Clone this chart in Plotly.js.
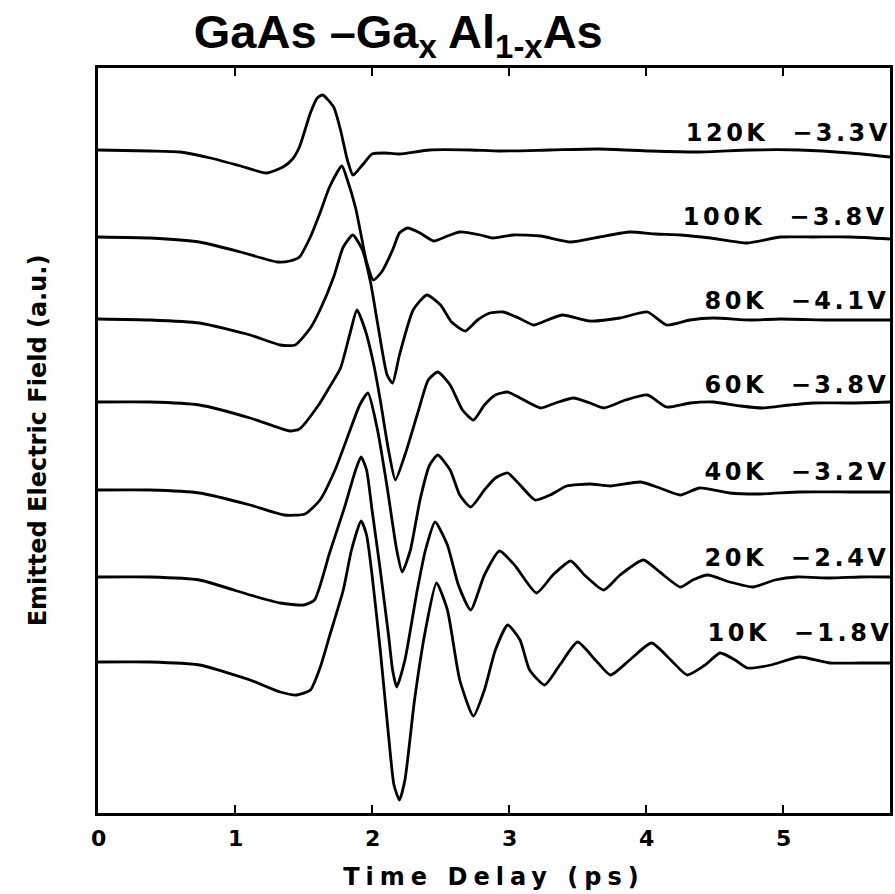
<!DOCTYPE html>
<html><head><meta charset="utf-8">
<script src="https://cdn.plot.ly/plotly-3.0.1.min.js"></script>
<style>html,body{margin:0;padding:0;background:#fff;} #chart{width:895px;height:894px;}</style>
</head><body><div id="chart"></div>
<script>
// Time delay (ps) and emitted field (a.u., vertically offset traces)
const t_120K = [0.00,0.38,0.60,0.82,1.04,1.23,1.35,1.42,1.47,1.55,1.60,1.64,1.72,1.77,1.82,1.86,1.88,1.93,2.00,2.09,2.20,2.42,2.72,2.93,3.30,3.66,4.03,4.39,4.76,5.12,5.49,5.78];
const e_120K = [66.3,66.2,66.1,65.5,64.7,64.0,64.6,65.4,66.6,70.0,71.5,71.8,70.6,68.3,65.3,63.8,64.0,64.8,65.9,66.0,65.9,66.3,66.3,66.2,66.3,66.4,66.2,66.1,66.3,66.3,66.0,65.6];

const t_100K = [0.00,0.38,0.74,1.04,1.31,1.40,1.47,1.55,1.62,1.69,1.78,1.82,1.88,1.92,1.96,2.01,2.07,2.15,2.20,2.26,2.35,2.45,2.55,2.64,2.79,2.88,3.03,3.23,3.45,3.66,3.88,4.07,4.25,4.47,4.74,4.98,5.22,5.49,5.78];
const e_100K = [57.6,57.5,57.1,56.1,55.1,55.2,55.6,57.6,60.0,62.6,64.7,63.3,60.5,57.8,55.1,53.3,54.1,56.3,58.0,58.5,58.0,57.2,57.7,58.1,57.8,57.5,57.8,57.7,57.1,57.6,58.1,57.9,57.8,57.5,57.0,57.6,57.6,57.6,57.4];

const t_80K = [0.00,0.38,0.74,1.11,1.33,1.44,1.55,1.62,1.72,1.79,1.86,1.93,1.99,2.04,2.11,2.15,2.20,2.30,2.40,2.50,2.58,2.68,2.77,2.86,2.96,3.07,3.18,3.28,3.39,3.59,3.81,4.01,4.15,4.32,4.49,4.76,4.98,5.34,5.78];
const e_80K = [49.4,49.3,49.0,47.8,46.8,46.8,48.5,50.3,53.6,56.6,57.8,56.3,53.0,49.0,43.8,43.0,45.8,50.3,51.8,50.8,49.1,48.2,49.3,50.0,50.1,49.5,48.8,49.3,49.8,49.2,49.5,50.1,48.8,49.3,49.5,49.3,49.4,49.3,49.3];

const t_60K = [0.00,0.38,0.74,1.11,1.40,1.47,1.61,1.69,1.77,1.84,1.89,1.95,2.01,2.06,2.12,2.17,2.24,2.34,2.41,2.48,2.57,2.66,2.74,2.82,2.90,2.99,3.08,3.23,3.34,3.47,3.59,3.69,3.85,4.01,4.15,4.32,4.49,4.69,4.85,5.05,5.22,5.49,5.78];
const e_60K = [41.1,41.1,40.8,39.5,38.2,38.4,40.8,42.6,44.5,48.0,50.3,48.3,45.0,41.3,36.3,33.3,35.8,40.3,43.3,44.1,42.8,40.3,39.3,40.8,41.8,42.1,41.5,40.5,41.0,41.5,41.0,40.5,41.3,41.8,40.6,41.0,41.1,40.7,40.5,40.8,41.0,41.0,41.1];

const t_40K = [0.00,0.38,0.74,1.11,1.36,1.51,1.62,1.73,1.84,1.91,1.97,2.04,2.11,2.18,2.22,2.28,2.35,2.42,2.48,2.57,2.64,2.72,2.82,2.90,2.99,3.08,3.19,3.30,3.42,3.59,3.74,3.96,4.10,4.25,4.39,4.61,4.83,5.12,5.49,5.78];
const e_40K = [32.3,32.3,32.0,30.8,29.8,29.9,31.3,34.3,38.3,40.8,42.0,38.3,32.6,26.3,24.1,26.3,31.3,34.8,35.8,34.3,31.8,30.6,32.3,33.5,34.0,32.8,31.3,31.8,32.7,32.9,32.7,33.1,32.5,31.8,32.5,32.0,31.9,32.1,32.1,32.1];

const t_20K = [0.00,0.38,0.74,1.11,1.33,1.50,1.58,1.69,1.80,1.88,1.92,1.96,2.00,2.06,2.12,2.15,2.18,2.24,2.33,2.39,2.46,2.55,2.63,2.72,2.82,2.93,3.04,3.20,3.32,3.45,3.55,3.69,3.81,3.98,4.10,4.25,4.34,4.45,4.61,4.78,4.94,5.10,5.34,5.56,5.78];
const e_20K = [23.6,23.6,23.3,21.8,21.0,20.8,21.3,26.0,30.6,34.3,35.6,34.3,30.3,24.3,17.8,14.3,12.6,15.3,22.3,26.3,29.1,26.8,22.8,20.3,23.8,26.2,24.8,22.0,23.8,25.2,23.8,22.3,23.8,25.3,24.1,22.6,23.3,23.8,23.1,22.6,23.3,23.6,23.5,23.6,23.6];

const t_10K = [0.00,0.38,0.74,1.11,1.33,1.45,1.55,1.62,1.69,1.79,1.85,1.92,1.96,2.00,2.06,2.12,2.16,2.20,2.24,2.31,2.39,2.47,2.55,2.64,2.74,2.82,2.90,2.99,3.08,3.15,3.26,3.37,3.50,3.63,3.74,3.88,4.04,4.18,4.30,4.43,4.54,4.65,4.74,4.91,5.12,5.34,5.56,5.78];
const e_10K = [15.1,15.1,14.8,13.3,12.1,11.8,12.3,14.5,17.7,22.3,26.3,29.2,27.8,23.8,16.3,7.8,2.8,1.3,3.3,11.3,18.3,23.0,20.3,13.3,9.7,12.3,16.3,18.8,17.3,14.3,12.8,14.8,17.1,15.3,13.8,15.3,17.0,15.3,13.8,14.8,16.0,15.3,14.5,14.8,15.6,15.0,15.0,15.0];

const curveLabels = ["120K −3.3V","100K −3.8V","80K −4.1V","60K −3.8V","40K −3.2V","20K −2.4V","10K −1.8V"];
const xTickVals = [0,1,2,3,4,5];
const xTickText = ["0","1","2","3","4","5"];

const series = [[t_120K,e_120K],[t_100K,e_100K],[t_80K,e_80K],[t_60K,e_60K],[t_40K,e_40K],[t_20K,e_20K],[t_10K,e_10K]];

const traces = series.map(function(s, i){
  return {x: s[0], y: s[1], type:'scatter', mode:'lines', name: curveLabels[i],
    line:{color:'#000', width:2.8, shape:'spline', smoothing:0.55}, hoverinfo:'skip'};
});

// label placement (layout)
const labelX = [5.04,5.02,5.10,5.10,5.10,5.10,5.12];
const labelY = [68.0,59.6,51.2,42.8,34.1,25.5,18.0];
const plotFont = 'DejaVu Sans, Verdana, sans-serif';

const curveAnnotations = curveLabels.map(function(lab, i){
  return {x: labelX[i], y: labelY[i], xref:'x', yref:'y', text: lab.replace(' ', '\u00a0 '),
    showarrow:false, xanchor:'center', yanchor:'middle',
    font:{family: plotFont, size:24, weight:'bold', color:'#000'}};
});
// x tick labels drawn at the axis tick values
const tickAnnotations = xTickVals.map(function(v, i){
  return {x: v, y: -0.034, xref:'x', yref:'paper', text: xTickText[i], showarrow:false,
    xanchor:'center', yanchor:'middle', font:{family: plotFont, size:22, weight:'bold', color:'#000'}};
});

const layout = {
  width:895, height:894,
  margin:{l:98, r:5, t:68, b:81},
  paper_bgcolor:'#fff', plot_bgcolor:'#fff',
  showlegend:false,
  font:{family:plotFont, color:'#000'},
  title:{text:'GaAs –Ga<sub>x</sub> Al<sub>1-x</sub>As', xref:'container', yref:'container',
    x:0.445, xanchor:'center', y:1-15/894, yanchor:'top',
    font:{family:'Liberation Sans, Arial, sans-serif', size:47, weight:'bold', color:'#000'}},
  xaxis:{range:[0,5.78], tickmode:'array', tickvals:xTickVals, ticktext:xTickText, showticklabels:false,
    ticks:'inside', ticklen:8, tickwidth:2.5,
    tickcolor:'#000', mirror:'ticks', showline:true, linewidth:3, linecolor:'#000', showgrid:false, zeroline:false,
    title:{text:'Time Delay (ps)', standoff:54, font:{family:plotFont, size:24, weight:'bold', color:'#000'}}},
  yaxis:{range:[0,74.5], showticklabels:false, ticks:'', showline:true, mirror:true, linewidth:3,
    linecolor:'#000', showgrid:false, zeroline:false,
    title:{text:'Emitted Electric Field (a.u.)', standoff:42, font:{family:plotFont, size:24, weight:'bold', color:'#000'}}},
  annotations: curveAnnotations.concat(tickAnnotations)
};

Plotly.newPlot('chart', traces, layout, {staticPlot:true, displayModeBar:false}).then(function(gd){
  gd.querySelectorAll('.annotation-text').forEach(function(el){
    if (el.textContent.length > 2) el.style.letterSpacing = '3.5px';
  });
  var xt = gd.querySelector('.xtitle'); if (xt) xt.style.letterSpacing = '6px';
});
</script></body></html>
